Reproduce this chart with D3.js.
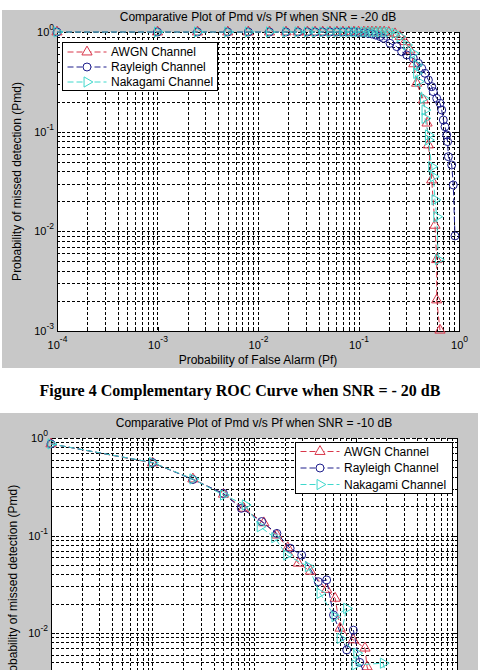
<!DOCTYPE html>
<html>
<head>
<meta charset="utf-8">
<script src="https://cdn.jsdelivr.net/npm/d3@7"></script>
<style>
  html, body { margin: 0; padding: 0; background: #fff; }
  svg { display: block; }
</style>
</head>
<body>
<div id="page"></div>
<script>
// ===== Axes (decades) =====
const xTickExp = [-4, -3, -2, -1, 0];
const yTickExp = [0, -1, -2, -3];
const seriesNames = ["AWGN Channel", "Rayleigh Channel", "Nakagami Channel"];

// ===== Figure 4 : SNR = -20 dB =====
const awgnPf20 = [0.0001, 0.001, 0.0025, 0.005, 0.008, 0.013, 0.019, 0.025, 0.031, 0.037, 0.044, 0.052, 0.061, 0.07, 0.08, 0.09, 0.1, 0.113, 0.124, 0.136, 0.149, 0.164,
  0.18, 0.2, 0.231, 0.26, 0.29, 0.325, 0.355, 0.379, 0.442, 0.481, 0.496, 0.535, 0.577, 0.6, 0.6, 0.647];
const awgnPmd20 = [1, 1, 1, 1, 1, 1, 1, 1, 1, 1, 1, 1, 1, 1, 1, 1, 1, 1, 1, 1, 1, 1,
  1, 0.99, 0.96, 0.9, 0.8, 0.66, 0.48, 0.306, 0.208, 0.122, 0.0736, 0.0328, 0.0115, 0.0052, 0.00205, 0.00102];

const rayPf20 = [0.0001, 0.001, 0.0025, 0.005, 0.008, 0.013, 0.019, 0.025, 0.031, 0.037, 0.044, 0.052, 0.061, 0.07, 0.08, 0.09, 0.1, 0.113, 0.124, 0.136, 0.149, 0.164,
  0.177, 0.206, 0.24, 0.269, 0.302, 0.351, 0.394, 0.426, 0.459, 0.496, 0.535, 0.555, 0.6, 0.647, 0.673, 0.698, 0.726, 0.755, 0.77, 0.784, 0.846, 0.877, 0.912];
const rayPmd20 = [1, 1, 1, 1, 1, 1, 1, 1, 1, 1, 1, 1, 1, 1, 1, 1, 0.99, 0.98, 0.97, 0.955, 0.93, 0.9,
  0.865, 0.77, 0.713, 0.634, 0.588, 0.545, 0.485, 0.432, 0.385, 0.33, 0.283, 0.252, 0.216, 0.193, 0.165, 0.131, 0.112, 0.0927, 0.0794, 0.0561, 0.0463, 0.0292, 0.009];

const nakPf20 = [0.0001, 0.001, 0.0025, 0.005, 0.008, 0.013, 0.019, 0.025, 0.031, 0.037, 0.044, 0.052, 0.061, 0.07, 0.08, 0.09, 0.1, 0.113, 0.124, 0.136, 0.149, 0.164,
  0.18, 0.2, 0.231, 0.259, 0.302, 0.351, 0.379, 0.379, 0.394, 0.442, 0.459, 0.459, 0.496, 0.496, 0.535, 0.555, 0.577, 0.6, 0.623];
const nakPmd20 = [1, 1, 1, 1, 1, 1, 1, 1, 1, 1, 1, 1, 1, 1, 1, 1, 1, 1, 1, 1, 1, 1,
  1, 0.995, 0.97, 0.897, 0.741, 0.611, 0.467, 0.385, 0.318, 0.216, 0.165, 0.136, 0.0927, 0.0826, 0.0446, 0.0354, 0.0207, 0.014, 0.0052];

// ===== Figure 5 : SNR = -10 dB (bas de page coupé) =====
const awgnPf10 = [0.0001, 0.001, 0.0025, 0.005, 0.0079, 0.0125, 0.0168, 0.0215, 0.0273, 0.036, 0.052, 0.063, 0.0705, 0.095, 0.124, 0.13, 0.16, 0.2];
const awgnPmd10 = [0.87, 0.555, 0.38, 0.265, 0.19, 0.135, 0.101, 0.075, 0.052, 0.043, 0.028, 0.0227, 0.0112, 0.0085, 0.007, 0.0045, 0.0025, 0.0012];

const rayPf10 = [0.0001, 0.001, 0.0025, 0.005, 0.0075, 0.0119, 0.0168, 0.0227, 0.0295, 0.043, 0.052, 0.0607, 0.082, 0.0953, 0.11, 0.14, 0.18];
const rayPmd10 = [0.87, 0.56, 0.375, 0.27, 0.19, 0.139, 0.105, 0.074, 0.063, 0.0336, 0.035, 0.0153, 0.0067, 0.0107, 0.005, 0.0028, 0.0015];

const nakPf10 = [0.0001, 0.001, 0.0025, 0.005, 0.0082, 0.0115, 0.016, 0.021, 0.0343, 0.0447, 0.0628, 0.0818, 0.0705, 0.103, 0.099, 0.188, 0.22];
const nakPmd10 = [0.87, 0.56, 0.38, 0.26, 0.206, 0.123, 0.095, 0.063, 0.0479, 0.0255, 0.0147, 0.0179, 0.0088, 0.0062, 0.0047, 0.0049, 0.002];

// ===== Style =====
const W = 480, H = 670;
const FONT = "'Liberation Sans', Arial, Helvetica, sans-serif";
const GRAY = "#c8c8c8";
const COLORS = ["#d8364a", "#1e1e8c", "#3fd8cc"];
const SYMBOLS = [
  { type: d3.symbolTriangle, size: 45, rot: 0 },
  { type: d3.symbolCircle, size: 50, rot: 0 },
  { type: d3.symbolTriangle, size: 45, rot: 90 },
];

const px = v => Math.round(v) + 0.5;

function zip(pf, pmd) {
  return pf.map((v, i) => ({ pf: v, pmd: pmd[i] }));
}

function supLabel(sel, size, supSize, shift) {
  sel.each(function (d) {
    const t = d3.select(this);
    const e = Math.round(Math.log10(d));
    t.text(null)
      .attr("font-size", size)
      .attr("font-family", FONT)
      .attr("fill", "#000");
    t.append("tspan").text("10");
    t.append("tspan").attr("dy", shift).attr("font-size", supSize).text(e);
  });
}

function drawFigure(svg, cfg, series) {
  const x = d3.scaleLog().domain([1e-4, 1]).range([cfg.left, cfg.right]);
  const y = d3.scaleLog().domain([1e-3, 1]).range([cfg.bottom, cfg.top]);
  const g = svg.append("g");
  const bottomVisible = cfg.bottom + 25 < H; // la 2e figure est coupée par le bas de la page

  // fond gris de la figure + zone blanche
  g.append("rect")
    .attr("x", cfg.panel[0]).attr("y", cfg.panel[1])
    .attr("width", cfg.panel[2]).attr("height", cfg.panel[3])
    .attr("fill", GRAY);
  g.append("rect")
    .attr("x", cfg.left).attr("y", cfg.top)
    .attr("width", cfg.right - cfg.left).attr("height", cfg.bottom - cfg.top)
    .attr("fill", "#fff");

  // grille (majeure + mineure, pointillés)
  const xg = x.ticks().filter(v => v > 1.0001e-4 && v < 0.9999);
  const yg = y.ticks().filter(v => v > 1.0001e-3 && v < 0.9999);
  const grid = g.append("g")
    .attr("stroke", "#000").attr("stroke-width", 1)
    .attr("stroke-dasharray", "3,2").attr("shape-rendering", "crispEdges");
  grid.selectAll(".gx").data(xg).enter().append("line")
    .attr("x1", d => px(x(d))).attr("x2", d => px(x(d)))
    .attr("y1", cfg.top).attr("y2", cfg.bottom);
  grid.selectAll(".gy").data(yg).enter().append("line")
    .attr("y1", d => px(y(d))).attr("y2", d => px(y(d)))
    .attr("x1", cfg.left).attr("x2", cfg.right);

  // axes
  const xMajor = xTickExp.map(e => Math.pow(10, e));
  const yMajor = yTickExp.map(e => Math.pow(10, e));
  const xMinor = x.ticks().filter(v => !xMajor.some(m => Math.abs(m - v) / m < 1e-6));
  const yMinor = y.ticks().filter(v => !yMajor.some(m => Math.abs(m - v) / m < 1e-6));

  const axB = g.append("g").attr("transform", `translate(0,${px(cfg.bottom) - 0.5})`)
    .call(d3.axisBottom(x).tickValues(xMajor).tickSizeInner(-4).tickSizeOuter(0).tickPadding(10));
  if (bottomVisible) supLabel(axB.selectAll("text"), 11, 8.5, -7);
  else axB.selectAll("text").remove();
  g.append("g").attr("transform", `translate(0,${px(cfg.bottom) - 0.5})`)
    .call(d3.axisBottom(x).tickValues(xMinor).tickSize(-2).tickFormat(""))
    .select(".domain").remove();

  const axL = g.append("g").attr("transform", `translate(${px(cfg.left) - 0.5},0)`)
    .call(d3.axisLeft(y).tickValues(yMajor).tickSizeInner(-4).tickSizeOuter(0).tickPadding(3));
  axL.selectAll(".tick").filter(d => y(d) > H).remove();
  supLabel(axL.selectAll("text"), 11, 8.5, -6);
  g.append("g").attr("transform", `translate(${px(cfg.left) - 0.5},0)`)
    .call(d3.axisLeft(y).tickValues(yMinor).tickSize(-2).tickFormat(""))
    .select(".domain").remove();

  const axT = g.append("g").attr("transform", `translate(0,${px(cfg.top) - 0.5})`)
    .call(d3.axisTop(x).tickValues(xMajor).tickSizeInner(-4).tickSizeOuter(0).tickFormat(""));
  axT.select(".domain").attr("stroke-dasharray", "4,2");
  g.append("g").attr("transform", `translate(0,${px(cfg.top) - 0.5})`)
    .call(d3.axisTop(x).tickValues(xMinor).tickSize(-2).tickFormat(""))
    .select(".domain").remove();

  g.append("g").attr("transform", `translate(${px(cfg.right) - 0.5},0)`)
    .call(d3.axisRight(y).tickValues(yMajor).tickSizeInner(-4).tickSizeOuter(0).tickFormat(""));
  g.append("g").attr("transform", `translate(${px(cfg.right) - 0.5},0)`)
    .call(d3.axisRight(y).tickValues(yMinor).tickSize(-2).tickFormat(""))
    .select(".domain").remove();

  g.selectAll(".domain").attr("stroke", "#000").attr("shape-rendering", "crispEdges");
  g.selectAll(".tick line").attr("stroke", "#000").attr("shape-rendering", "crispEdges");

  // séries
  const line = d3.line().x(d => x(d.pf)).y(d => y(d.pmd));
  series.forEach((s, i) => {
    const sg = g.append("g");
    sg.append("path")
      .datum(s)
      .attr("d", line)
      .attr("fill", "none")
      .attr("stroke", COLORS[i])
      .attr("stroke-width", 1)
      .attr("stroke-dasharray", "6,3");
    const sym = d3.symbol(SYMBOLS[i].type, SYMBOLS[i].size);
    sg.selectAll(".mk").data(s).enter().append("path")
      .attr("d", sym)
      .attr("transform", d => `translate(${x(d.pf)},${y(d.pmd)}) rotate(${SYMBOLS[i].rot})`)
      .attr("fill", "none")
      .attr("stroke", COLORS[i])
      .attr("stroke-width", 1);
  });

  // titres
  g.append("text")
    .attr("x", (cfg.left + cfg.right) / 2).attr("y", cfg.titleY)
    .attr("text-anchor", "middle")
    .attr("font-family", FONT).attr("font-size", 12)
    .text(cfg.title);
  if (bottomVisible) {
    g.append("text")
      .attr("x", (cfg.left + cfg.right) / 2).attr("y", cfg.xLabelY)
      .attr("text-anchor", "middle")
      .attr("font-family", FONT).attr("font-size", 12)
      .text("Probability of False Alarm (Pf)");
  }
  g.append("text")
    .attr("transform", `translate(${cfg.yLabelX},${(cfg.top + cfg.bottom) / 2}) rotate(-90)`)
    .attr("text-anchor", "middle")
    .attr("font-family", FONT).attr("font-size", 12)
    .text("Probability of missed detection (Pmd)");

  // légende
  const L = cfg.legend;
  const lg = g.append("g").attr("transform", `translate(${L.x},${L.y})`);
  lg.append("rect")
    .attr("x", 0.5).attr("y", 0.5).attr("width", L.w).attr("height", L.h)
    .attr("fill", "#fff").attr("stroke", "#000").attr("stroke-width", 1);
  seriesNames.forEach((name, i) => {
    const ry = L.row0 + i * L.step;
    lg.append("line")
      .attr("x1", 5.5).attr("x2", 44.5).attr("y1", ry).attr("y2", ry)
      .attr("stroke", COLORS[i]).attr("stroke-dasharray", "6,3");
    lg.append("path")
      .attr("d", d3.symbol(SYMBOLS[i].type, SYMBOLS[i].size))
      .attr("transform", `translate(25,${ry}) rotate(${SYMBOLS[i].rot})`)
      .attr("fill", "#fff").attr("stroke", COLORS[i]);
    lg.append("text")
      .attr("x", 49).attr("y", ry + 4)
      .attr("font-family", FONT).attr("font-size", 12)
      .text(name);
  });
}

// ===== Page =====
const svg = d3.select("#page").append("svg")
  .attr("width", W).attr("height", H)
  .attr("viewBox", `0 0 ${W} ${H}`);
svg.append("rect").attr("width", W).attr("height", H).attr("fill", "#fff");

drawFigure(svg, {
  panel: [2, 10, 478, 358],
  left: 57, right: 459, top: 32, bottom: 331,
  titleY: 21, xLabelY: 364, yLabelX: 21,
  title: "Comparative Plot of Pmd v/s Pf when SNR = -20 dB",
  legend: { x: 62, y: 42, w: 155, h: 48, row0: 10, step: 15 },
}, [zip(awgnPf20, awgnPmd20), zip(rayPf20, rayPmd20), zip(nakPf20, nakPmd20)]);

svg.append("text")
  .attr("x", 240).attr("y", 396)
  .attr("text-anchor", "middle")
  .attr("font-family", "'Liberation Serif', 'Times New Roman', serif")
  .attr("font-weight", "bold").attr("font-size", 16)
  .text("Figure 4 Complementary ROC Curve when SNR = - 20 dB");

drawFigure(svg, {
  panel: [0, 413, 478, 400],
  left: 51, right: 457, top: 438, bottom: 730.5,
  titleY: 427, xLabelY: 765, yLabelX: 17,
  title: "Comparative Plot of Pmd v/s Pf when SNR = -10 dB",
  legend: { x: 295, y: 442, w: 157, h: 51, row0: 9.5, step: 16.5 },
}, [zip(awgnPf10, awgnPmd10), zip(rayPf10, rayPmd10), zip(nakPf10, nakPmd10)]);
</script>
</body>
</html>
